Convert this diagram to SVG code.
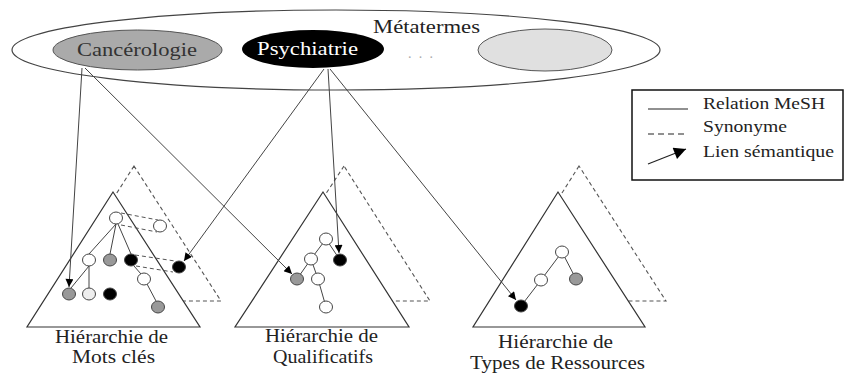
<svg xmlns="http://www.w3.org/2000/svg" width="845" height="373" viewBox="0 0 845 373">
<style>
  text { font-family: 'Times New Roman', 'Liberation Serif', Times, 'DejaVu Serif', serif; fill: #222; }
  .tri { fill: #fff; stroke: #333; stroke-width: 1.2; }
  .dtri { fill: none; stroke: #555; stroke-width: 1.1; stroke-dasharray: 4 3; }
  .edge { stroke: #444; stroke-width: 1; fill: none; }
  .syn { stroke: #555; stroke-width: 1; stroke-dasharray: 4 3; fill: none; }
  .link { stroke: #444; stroke-width: 1; fill: none; marker-end: url(#ah); }
  .n { stroke: #444; stroke-width: 1; }
  .w { fill: #fff; }
  .lw { fill: #eee; }
  .g { fill: #999; }
  .b { fill: #000; }
</style>
<defs>
  <marker id="ah" viewBox="0 0 10 10" refX="10" refY="5" markerWidth="9" markerHeight="8" markerUnits="userSpaceOnUse" orient="auto">
    <path d="M0,0 L10,5 L0,10 z" fill="#000"/>
  </marker>
  <marker id="ahbig" viewBox="0 0 10 10" refX="10" refY="5" markerWidth="14" markerHeight="12" markerUnits="userSpaceOnUse" orient="auto">
    <path d="M0,0 L10,5 L0,10 z" fill="#000"/>
  </marker>
</defs>
<rect width="845" height="373" fill="#fff"/>

<g id="metatermes">
  <ellipse cx="336" cy="50" rx="324" ry="40" fill="#fff" stroke="#444" stroke-width="1.2"/>
  <text x="373" y="33" font-size="19.5" textLength="107" lengthAdjust="spacingAndGlyphs">Métatermes</text>
  <text x="408" y="58" font-size="14" style="fill:#aaa" textLength="25" lengthAdjust="spacing">...</text>
</g>
<g id="cancerologie">
  <ellipse cx="137.5" cy="50" rx="84.5" ry="20" fill="#aaa" stroke="#555" stroke-width="1"/>
  <text x="77" y="56" font-size="19.5" style="fill:#333" textLength="120" lengthAdjust="spacingAndGlyphs">Cancérologie</text>
</g>
<g id="psychiatrie">
  <ellipse cx="313" cy="49" rx="71" ry="19" fill="#000"/>
  <text x="257" y="55" font-size="19.5" style="fill:#fff" textLength="101" lengthAdjust="spacingAndGlyphs">Psychiatrie</text>
</g>
<g id="autre-metaterme">
  <ellipse cx="545" cy="50" rx="67" ry="21" fill="#e0e0e0" stroke="#555" stroke-width="1"/>
</g>

<g id="legende">
  <rect x="632" y="90" width="211" height="90" fill="#fff" stroke="#111" stroke-width="1.5"/>
  <line x1="648" y1="109" x2="688" y2="109" stroke="#222" stroke-width="1.2"/>
  <line x1="648" y1="134" x2="688" y2="134" stroke="#222" stroke-width="1.2" stroke-dasharray="6 4"/>
  <line x1="648" y1="164" x2="686" y2="149" stroke="#222" stroke-width="1.2" marker-end="url(#ahbig)"/>
  <text x="703" y="109" font-size="16" textLength="122" lengthAdjust="spacingAndGlyphs">Relation MeSH</text>
  <text x="703" y="132" font-size="16" textLength="84" lengthAdjust="spacingAndGlyphs">Synonyme</text>
  <text x="703" y="157" font-size="16" textLength="131" lengthAdjust="spacingAndGlyphs">Lien sémantique</text>
</g>

<g id="hierarchie-mots-cles">
  <polygon class="dtri" points="134,166 48,301 221,301"/>
  <polygon class="tri" points="113,192 27,327 200,327"/>
  <line class="edge" x1="116" y1="224" x2="89" y2="254"/>
  <line class="edge" x1="116" y1="224" x2="110" y2="254"/>
  <line class="edge" x1="118" y1="224" x2="131" y2="254"/>
  <line class="edge" x1="89" y1="266" x2="71" y2="288"/>
  <line class="edge" x1="89" y1="266" x2="89" y2="288"/>
  <line class="edge" x1="134" y1="266" x2="141" y2="274"/>
  <line class="edge" x1="147" y1="284" x2="156" y2="301"/>
  <line class="syn" x1="121" y1="213" x2="158" y2="220"/>
  <line class="syn" x1="121" y1="225" x2="157" y2="232"/>
  <line class="syn" x1="135" y1="255" x2="175" y2="261"/>
  <line class="syn" x1="136" y1="266" x2="173" y2="272"/>
  <ellipse class="n w" cx="116" cy="218" rx="6.5" ry="6"/>
  <ellipse class="n w" cx="160" cy="226" rx="6.5" ry="6"/>
  <ellipse class="n w" cx="89" cy="260" rx="6.5" ry="6"/>
  <ellipse class="n g" cx="110" cy="260" rx="6.5" ry="6"/>
  <ellipse class="n b" cx="131" cy="260" rx="6.5" ry="6"/>
  <ellipse class="n b" cx="179" cy="267" rx="6.5" ry="6"/>
  <ellipse class="n w" cx="144" cy="279" rx="6.5" ry="6"/>
  <ellipse class="n g" cx="69" cy="294" rx="6.5" ry="6"/>
  <ellipse class="n lw" cx="89" cy="294" rx="6.5" ry="6"/>
  <ellipse class="n b" cx="110" cy="294" rx="6.5" ry="6"/>
  <ellipse class="n g" cx="158" cy="307" rx="6.5" ry="6"/>
  <text x="55" y="343" font-size="18" textLength="113" lengthAdjust="spacingAndGlyphs">Hiérarchie de</text>
  <text x="72" y="363" font-size="18" textLength="83" lengthAdjust="spacingAndGlyphs">Mots clés</text>
</g>

<g id="hierarchie-qualificatifs">
  <polygon class="dtri" points="344,166 256,301 430,301"/>
  <polygon class="tri" points="323,192 235,327 409,327"/>
  <line class="edge" x1="326" y1="239" x2="340" y2="260"/>
  <line class="edge" x1="326" y1="239" x2="311" y2="259"/>
  <line class="edge" x1="311" y1="259" x2="297" y2="279"/>
  <line class="edge" x1="311" y1="259" x2="318" y2="279"/>
  <line class="edge" x1="318" y1="279" x2="326" y2="307"/>
  <ellipse class="n w" cx="326" cy="239" rx="6.5" ry="6"/>
  <ellipse class="n b" cx="340" cy="260" rx="6.5" ry="6"/>
  <ellipse class="n w" cx="311" cy="259" rx="6.5" ry="6"/>
  <ellipse class="n g" cx="297" cy="279" rx="6.5" ry="6"/>
  <ellipse class="n w" cx="318" cy="279" rx="6.5" ry="6"/>
  <ellipse class="n w" cx="326" cy="307" rx="6.5" ry="6"/>
  <text x="265" y="342" font-size="18" textLength="113" lengthAdjust="spacingAndGlyphs">Hiérarchie de</text>
  <text x="273" y="363" font-size="18" textLength="100" lengthAdjust="spacingAndGlyphs">Qualificatifs</text>
</g>

<g id="hierarchie-types-ressources">
  <polygon class="dtri" points="579,166 494,301 666,301"/>
  <polygon class="tri" points="558,192 473,327 645,327"/>
  <line class="edge" x1="562" y1="252" x2="541" y2="280"/>
  <line class="edge" x1="562" y1="252" x2="576" y2="279"/>
  <line class="edge" x1="541" y1="280" x2="521" y2="306"/>
  <ellipse class="n w" cx="562" cy="252" rx="6.5" ry="6"/>
  <ellipse class="n w" cx="541" cy="280" rx="6.5" ry="6"/>
  <ellipse class="n g" cx="576" cy="279" rx="6.5" ry="6"/>
  <ellipse class="n b" cx="521" cy="306" rx="6.5" ry="6"/>
  <text x="498" y="348" font-size="18" textLength="115" lengthAdjust="spacingAndGlyphs">Hiérarchie de</text>
  <text x="470" y="369" font-size="18" textLength="175" lengthAdjust="spacingAndGlyphs">Types de Ressources</text>
</g>

<g id="connecteurs">
  <line class="link" x1="82" y1="68" x2="69" y2="287"/>
  <line class="link" x1="85" y1="68" x2="292" y2="274"/>
  <line class="link" x1="324" y1="69" x2="184" y2="261"/>
  <line class="link" x1="328" y1="69" x2="339" y2="253"/>
  <line class="link" x1="330" y1="69" x2="516" y2="300"/>
</g>
</svg>
